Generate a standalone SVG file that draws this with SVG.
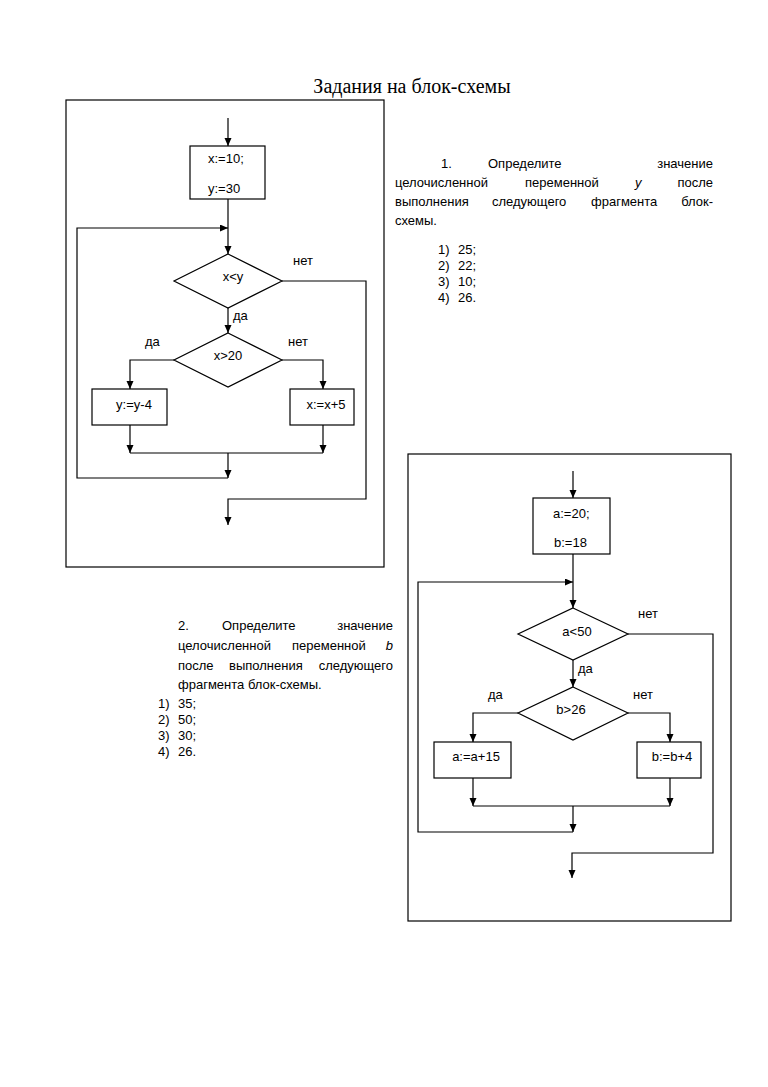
<svg xmlns="http://www.w3.org/2000/svg" width="768" height="1087" viewBox="0 0 768 1087">
<style>
.t{font-family:"Liberation Sans",Arial,sans-serif;font-size:13px;fill:#000}
.e{text-anchor:end}
.m{text-anchor:middle}
.i{font-style:italic}
.title{font-family:"Liberation Serif","Times New Roman",serif;font-size:20px;fill:#000;text-anchor:middle}
.frame{fill:none;stroke:#000;stroke-width:1.2}
.shape{fill:#fff;stroke:#000;stroke-width:1.2}
.c path{fill:none;stroke:#000;stroke-width:1.2}
.c path.a{marker-end:url(#arr)}
</style>
<defs>
<marker id="arr" markerUnits="userSpaceOnUse" markerWidth="8" markerHeight="8" refX="8" refY="3.5" orient="auto">
<path d="M0,0 L8,3.5 L0,7 z" fill="#000"/>
</marker>
</defs>
<rect width="768" height="1087" fill="#fff"/>
<text class="title" x="412" y="93">Задания на блок-схемы</text>

<g id="frame1"><rect class="frame" x="66" y="100" width="318" height="467"/></g>
<g id="frame2"><rect class="frame" x="408" y="454" width="323" height="467"/></g>

<!-- Flowchart 1 -->
<g class="c" id="connectors1">
<path class="a" d="M228,118 V146"/>
<path class="a" d="M228,199 V254"/>
<path class="a" d="M228,478 H77 V228 H228"/>
<path class="a" d="M282,281 H366 V499 H228 V525"/>
<path class="a" d="M228,308 V333"/>
<path class="a" d="M174,360 H130 V389"/>
<path class="a" d="M282,360 H323 V389"/>
<path class="a" d="M130,425 V453"/>
<path class="a" d="M323,425 V453"/>
<path d="M130,453 H323"/>
<path class="a" d="M228,453 V478"/>
</g>
<g id="init1">
<rect class="shape" x="190" y="146" width="75" height="53"/>
<text class="t" x="208" y="163">x:=10;</text>
<text class="t" x="208" y="193">y:=30</text>
</g>
<g id="cond1">
<polygon class="shape" points="228,254 282,281 228,308 174,281"/>
<text class="t m" x="233" y="281">x&lt;y</text>
</g>
<g id="cond2">
<polygon class="shape" points="228,333 282,360 228,387 174,360"/>
<text class="t m" x="228" y="360">x&gt;20</text>
</g>
<g id="boxY">
<rect class="shape" x="92" y="389" width="75" height="36"/>
<text class="t m" x="134" y="409">y:=y-4</text>
</g>
<g id="boxX">
<rect class="shape" x="290" y="389" width="64" height="36"/>
<text class="t m" x="326" y="409">x:=x+5</text>
</g>
<g id="labels1">
<text class="t" x="293" y="265">нет</text>
<text class="t" x="233" y="320">да</text>
<text class="t" x="145" y="346">да</text>
<text class="t" x="288" y="346">нет</text>
</g>

<!-- Task 1 text -->
<g id="task1">
<text class="t" x="441" y="168">1.</text>
<text class="t" x="488" y="168">Определите</text>
<text class="t e" x="713" y="168">значение</text>
<text class="t" x="395" y="187">целочисленной</text>
<text class="t" x="525" y="187">переменной</text>
<text class="t i" x="635" y="187">y</text>
<text class="t e" x="713" y="187">после</text>
<text class="t" x="395" y="206">выполнения</text>
<text class="t" x="492" y="206">следующего</text>
<text class="t" x="591" y="206">фрагмента</text>
<text class="t e" x="713" y="206">блок-</text>
<text class="t" x="395" y="225">схемы.</text>
<text class="t" x="438" y="254">1)</text><text class="t" x="458" y="254">25;</text>
<text class="t" x="438" y="270">2)</text><text class="t" x="458" y="270">22;</text>
<text class="t" x="438" y="286">3)</text><text class="t" x="458" y="286">10;</text>
<text class="t" x="438" y="302">4)</text><text class="t" x="458" y="302">26.</text>
</g>

<!-- Task 2 text -->
<g id="task2">
<text class="t" x="178" y="630">2.</text>
<text class="t" x="222" y="630">Определите</text>
<text class="t e" x="393" y="630">значение</text>
<text class="t" x="178" y="650">целочисленной</text>
<text class="t" x="292" y="650">переменной</text>
<text class="t i e" x="393" y="650">b</text>
<text class="t" x="178" y="670">после</text>
<text class="t" x="229" y="670">выполнения</text>
<text class="t e" x="393" y="670">следующего</text>
<text class="t" x="178" y="689">фрагмента блок-схемы.</text>
<text class="t" x="158" y="708">1)</text><text class="t" x="178" y="708">35;</text>
<text class="t" x="158" y="724">2)</text><text class="t" x="178" y="724">50;</text>
<text class="t" x="158" y="740">3)</text><text class="t" x="178" y="740">30;</text>
<text class="t" x="158" y="756">4)</text><text class="t" x="178" y="756">26.</text>
</g>

<!-- Flowchart 2 -->
<g class="c" id="connectors2">
<path class="a" d="M573,471 V498"/>
<path class="a" d="M573,554 V608"/>
<path class="a" d="M573,832 H418 V582 H573"/>
<path class="a" d="M628,634 H713 V853 H572 V878"/>
<path class="a" d="M573,660 V687"/>
<path class="a" d="M518,713 H473 V742"/>
<path class="a" d="M628,713 H670 V742"/>
<path class="a" d="M473,778 V806"/>
<path class="a" d="M670,778 V806"/>
<path d="M473,806 H670"/>
<path class="a" d="M573,806 V832"/>
</g>
<g id="init2">
<rect class="shape" x="533" y="498" width="77" height="56"/>
<text class="t" x="553" y="518">a:=20;</text>
<text class="t" x="554" y="547">b:=18</text>
</g>
<g id="cond3">
<polygon class="shape" points="573,608 628,634 573,660 518,634"/>
<text class="t m" x="577" y="636">a&lt;50</text>
</g>
<g id="cond4">
<polygon class="shape" points="573,687 628,713 573,740 518,713"/>
<text class="t m" x="571" y="714">b&gt;26</text>
</g>
<g id="boxA">
<rect class="shape" x="434" y="742" width="77" height="36"/>
<text class="t m" x="476" y="761">a:=a+15</text>
</g>
<g id="boxB">
<rect class="shape" x="637" y="742" width="64" height="36"/>
<text class="t m" x="672" y="761">b:=b+4</text>
</g>
<g id="labels2">
<text class="t" x="638" y="618">нет</text>
<text class="t" x="578" y="673">да</text>
<text class="t" x="488" y="699">да</text>
<text class="t" x="633" y="699">нет</text>
</g>
</svg>
